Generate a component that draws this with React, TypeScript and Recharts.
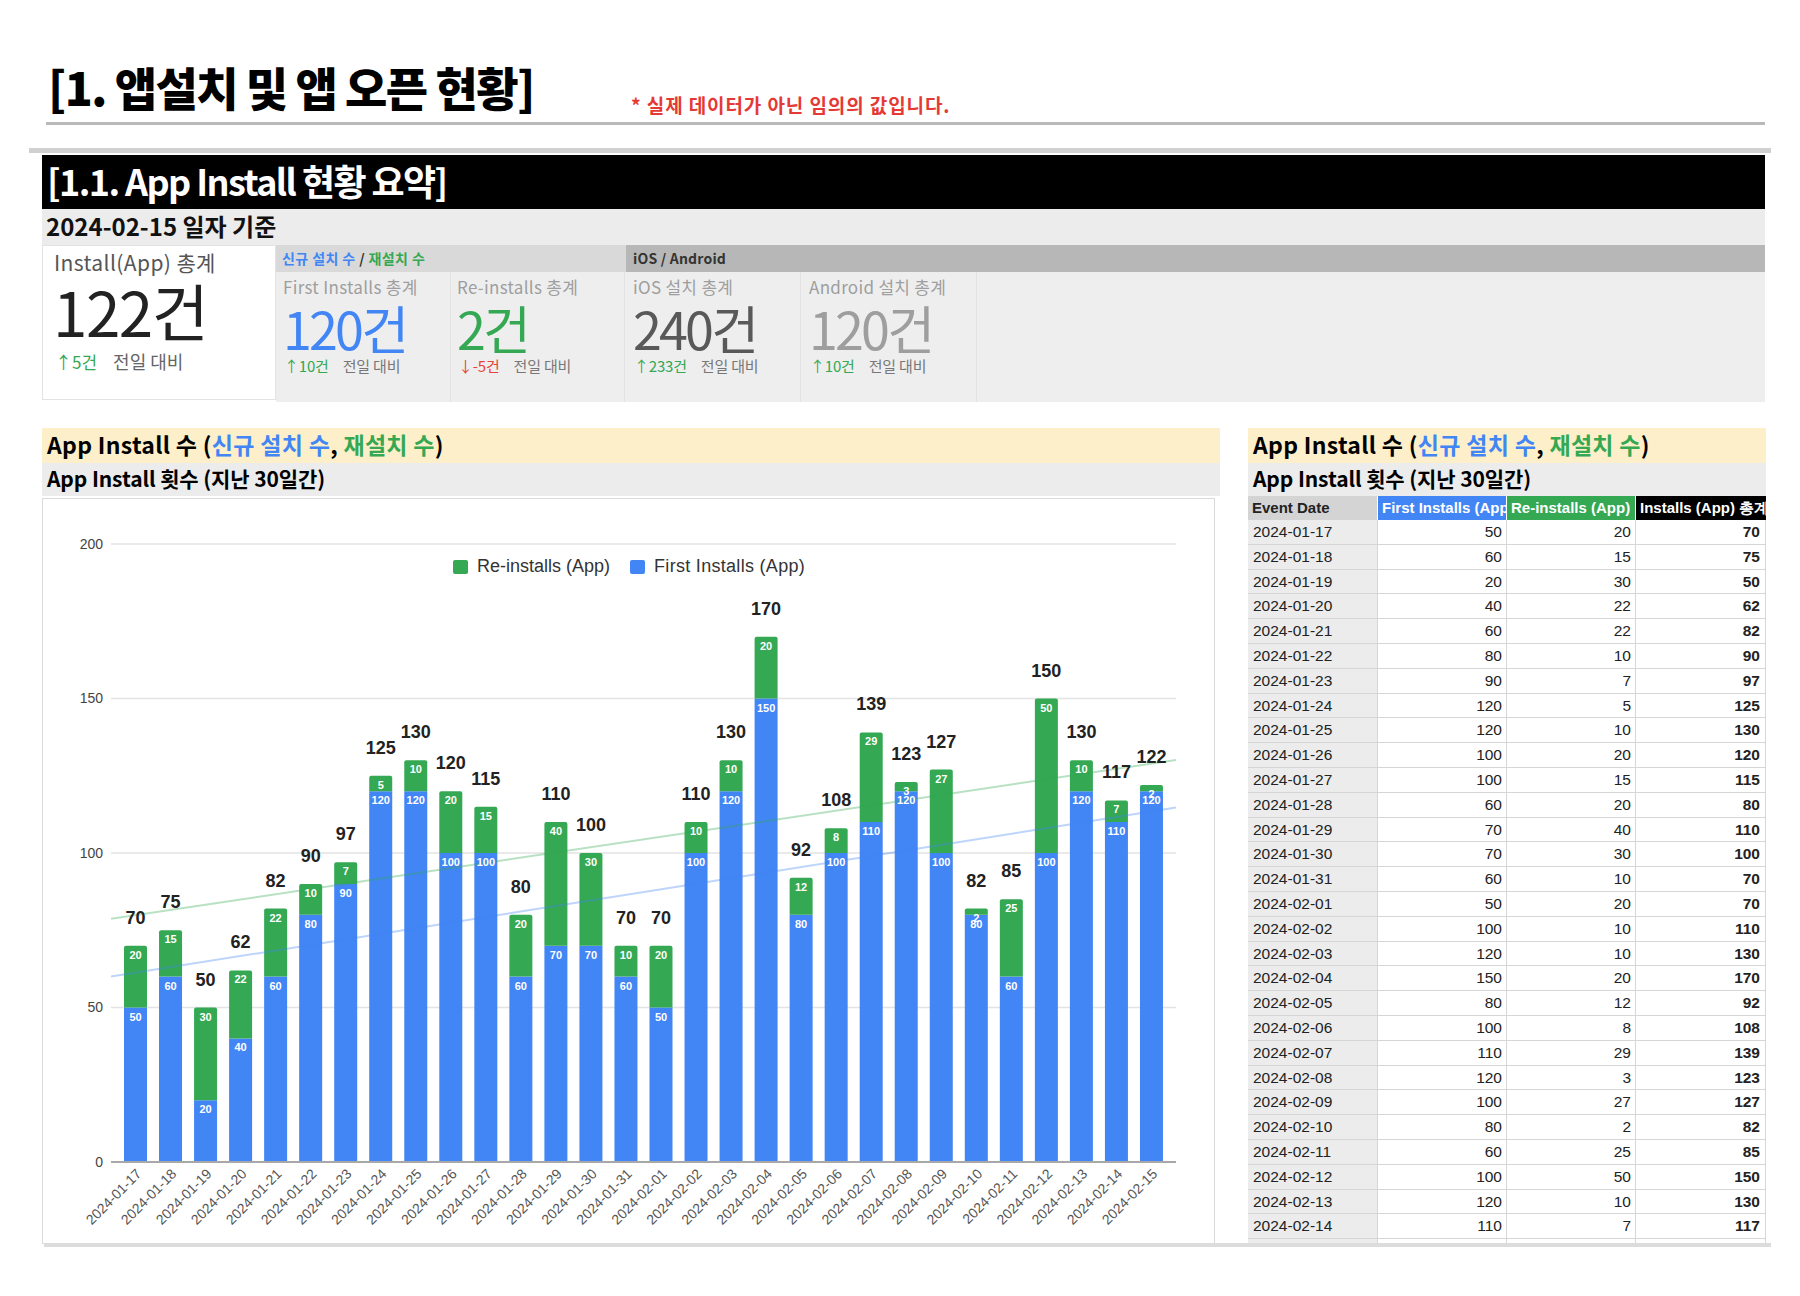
import React from "react";
import { ComposedChart, Bar, Line, XAxis, YAxis, CartesianGrid, LabelList } from "recharts";

const dates = [
  "2024-01-17", "2024-01-18", "2024-01-19", "2024-01-20", "2024-01-21", "2024-01-22",
  "2024-01-23", "2024-01-24", "2024-01-25", "2024-01-26", "2024-01-27", "2024-01-28",
  "2024-01-29", "2024-01-30", "2024-01-31", "2024-02-01", "2024-02-02", "2024-02-03",
  "2024-02-04", "2024-02-05", "2024-02-06", "2024-02-07", "2024-02-08", "2024-02-09",
  "2024-02-10", "2024-02-11", "2024-02-12", "2024-02-13", "2024-02-14", "2024-02-15",
];
const firstInstalls = [50, 60, 20, 40, 60, 80, 90, 120, 120, 100, 100, 60, 70, 70, 60, 50, 100, 120, 150, 80, 100, 110, 120, 100, 80, 60, 100, 120, 110, 120];
const reInstalls = [20, 15, 30, 22, 22, 10, 7, 5, 10, 20, 15, 20, 40, 30, 10, 20, 10, 10, 20, 12, 8, 29, 3, 27, 2, 25, 50, 10, 7, 2];
const totals = [70, 75, 50, 62, 82, 90, 97, 125, 130, 120, 115, 80, 110, 100, 70, 70, 110, 130, 170, 92, 108, 139, 123, 127, 82, 85, 150, 130, 117, 122];
const yTicks = [0, 50, 100, 150, 200];

// trend lines at the left and right edge of the plot
const trendX = [-0.7, 29.7];
const totalTrend = [78.7, 130.1];
const firstTrend = [60.0, 114.7];

const kpiTitles = ["First Installs 총계", "Re-installs 총계", "iOS 설치 총계", "Android 설치 총계"];
const kpiValues = [120, 2, 240, 120];
const kpiDeltas = [10, -5, 233, 10];
const kpiColors = ["#4285f4", "#34a853", "#595959", "#9e9e9e"];
const kpiLefts = [276, 450, 626, 802];

const BLUE = "#4285f4";
const GREEN = "#34a853";
const KR = '"Noto Sans CJK KR", "Noto Sans", sans-serif';
const AR = '"Liberation Sans", Arial, sans-serif';

const rows = dates.map((d, i) => ({ date: d, first: firstInstalls[i], re: reInstalls[i], total: totals[i] }));
const trendRows = trendX.map((t, i) => ({ t, total: totalTrend[i], first: firstTrend[i] }));

function Txt({ x, cy, size, color = "#000", bold = false, weight, ls = 0, fam = KR, children }: any) {
  const off = fam === KR ? 0.66 : 0.59;
  return (
    <div
      style={{
        position: "absolute", left: x, top: cy - size * off, fontSize: size, lineHeight: `${size * 1.2}px`,
        fontWeight: weight ?? (bold ? 700 : 400), color, letterSpacing: ls, fontFamily: fam, whiteSpace: "nowrap",
      }}
    >
      {children}
    </div>
  );
}

function Box({ x, y, w, h, bg, style }: any) {
  return <div style={{ position: "absolute", left: x, top: y, width: w, height: h, background: bg, boxSizing: "border-box", ...style }} />;
}

function pos(props: any) {
  const vb = props.viewBox ?? {};
  return {
    x: Number(props.x ?? vb.x),
    y: Number(props.y ?? vb.y),
    w: Number(props.width ?? vb.width),
  };
}

function SegLabel(props: any) {
  const { x, y, w } = pos(props);
  return (
    <text x={x + w / 2} y={y + 13} textAnchor="middle" fill="#fff" fontSize={11} fontWeight={700} fontFamily={AR}>
      {props.value}
    </text>
  );
}

function TotalLabel(props: any) {
  const { x, y, w } = pos(props);
  return (
    <text x={x + w / 2} y={y - 22} textAnchor="middle" fill="#222" fontSize={18} fontWeight={700} fontFamily={AR}>
      {props.value}
    </text>
  );
}

function DateTick({ x, y, payload }: any) {
  return (
    <g transform={`translate(${x + 4},${y + 2})`}>
      <text textAnchor="end" transform="rotate(-45)" dy={4} fontSize={14} fill="#555" fontFamily={AR}>
        {payload.value}
      </text>
    </g>
  );
}

function InstallChart() {
  return (
    <div style={{ position: "absolute", left: 42, top: 498, width: 1173, height: 746, border: "1px solid #dadada", boxSizing: "border-box", background: "#fff" }}>
      <ComposedChart width={1171} height={744} data={rows} margin={{ top: 45, right: 38, left: 0, bottom: 0 }}>
        <CartesianGrid vertical={false} stroke="#e3e3e3" strokeWidth={1.5} />
        <XAxis
          dataKey="date"
          interval={0}
          tickLine={false}
          axisLine={{ stroke: "#a8a8a8", strokeWidth: 2 }}
          height={81}
          padding={{ left: 7, right: 7 }}
          tick={<DateTick />}
        />
        <XAxis xAxisId="trend" type="number" dataKey="t" domain={[trendX[0], trendX[1]]} allowDataOverflow hide />
        <YAxis
          domain={[0, 200]}
          ticks={yTicks}
          width={68}
          axisLine={false}
          tickLine={false}
          tickMargin={2}
          tick={{ fontSize: 14, fill: "#444", fontFamily: AR }}
        />
        <Bar dataKey="first" stackId="a" fill={BLUE} barSize={23} isAnimationActive={false}>
          <LabelList dataKey="first" content={SegLabel} />
        </Bar>
        <Bar dataKey="re" stackId="a" fill={GREEN} barSize={23} radius={[2, 2, 0, 0]} isAnimationActive={false}>
          <LabelList dataKey="re" content={SegLabel} />
          <LabelList dataKey="total" content={TotalLabel} />
        </Bar>
        <Line xAxisId="trend" data={trendRows} dataKey="total" stroke={GREEN} strokeOpacity={0.35} strokeWidth={2} dot={false} activeDot={false} isAnimationActive={false} />
        <Line xAxisId="trend" data={trendRows} dataKey="first" stroke={BLUE} strokeOpacity={0.35} strokeWidth={2} dot={false} activeDot={false} isAnimationActive={false} />
      </ComposedChart>
      <div style={{ position: "absolute", left: 410, top: 57, display: "flex", alignItems: "center", fontFamily: AR, fontSize: 18, color: "#333" }}>
        <span style={{ width: 15, height: 14, background: GREEN, borderRadius: 2, marginRight: 9 }} />
        <span style={{ marginRight: 20 }}>Re-installs (App)</span>
        <span style={{ width: 15, height: 14, background: BLUE, borderRadius: 2, marginRight: 9 }} />
        <span style={{ letterSpacing: 0.3 }}>First Installs (App)</span>
      </div>
    </div>
  );
}

const colW = [130, 129, 129, 130];
const cellBorder = "1px solid #d6d6d6";

function InstallTable() {
  const headers = [
    { t: "Event Date", bg: "#d4d4d4", c: "#222" },
    { t: "First Installs (App)", bg: BLUE, c: "#fff" },
    { t: "Re-installs (App)", bg: GREEN, c: "#fff" },
    { t: "Installs (App) 총계", bg: "#000", c: "#fff" },
  ];
  return (
    <div style={{ position: "absolute", left: 1248, top: 496, width: 518, height: 747, overflow: "hidden", fontFamily: AR }}>
      <div style={{ display: "flex", height: 24 }}>
        {headers.map((h, i) => (
          <div
            key={h.t}
            style={{
              width: colW[i], background: h.bg, color: h.c, fontWeight: 700, fontSize: 15, lineHeight: "24px",
              paddingLeft: 4, boxSizing: "border-box", overflow: "hidden", whiteSpace: "nowrap",
              borderRight: i < 3 ? "1px solid #fff" : "none",
            }}
          >
            {h.t}
          </div>
        ))}
      </div>
      {rows.map((r) => (
        <div key={r.date} style={{ display: "flex", height: 24.8, boxSizing: "border-box", borderBottom: cellBorder, fontSize: 15.5, color: "#222" }}>
          <div style={{ width: colW[0], background: "#ececec", borderRight: cellBorder, paddingLeft: 5, boxSizing: "border-box", lineHeight: "24px" }}>{r.date}</div>
          <div style={{ width: colW[1], borderRight: cellBorder, paddingRight: 4, boxSizing: "border-box", textAlign: "right", lineHeight: "24px" }}>{r.first}</div>
          <div style={{ width: colW[2], borderRight: cellBorder, paddingRight: 4, boxSizing: "border-box", textAlign: "right", lineHeight: "24px" }}>{r.re}</div>
          <div style={{ width: colW[3], borderRight: cellBorder, paddingRight: 5, boxSizing: "border-box", textAlign: "right", lineHeight: "24px", fontWeight: 700 }}>{r.total}</div>
        </div>
      ))}
    </div>
  );
}

function SectionHeader({ x, w }: { x: number; w: number }) {
  return (
    <>
      <Box x={x} y={428} w={w} h={35} bg="#fcefc9" />
      <Txt x={x + 5} cy={446} size={23} bold ls={0.3}>
        App Install 수 (<span style={{ color: BLUE }}>신규 설치 수</span>, <span style={{ color: GREEN }}>재설치 수</span>)
      </Txt>
      <Box x={x} y={463} w={w} h={33} bg="#ececec" />
      <Txt x={x + 5} cy={480} size={21} bold ls={-0.1}>
        App Install 횟수 (지난 30일간)
      </Txt>
    </>
  );
}

export default function App() {
  return (
    <div style={{ position: "absolute", left: 0, top: 0, width: 1800, height: 1296, background: "#fff", overflow: "hidden", fontFamily: KR }}>
      <Txt x={48} cy={89} size={46} weight={900} ls={-1.6}>[1. 앱설치 및 앱 오픈 현황]</Txt>
      <Txt x={631} cy={107} size={19} bold ls={0.9} color="#e53935">* 실제 데이터가 아닌 임의의 값입니다.</Txt>
      <Box x={46} y={122} w={1719} h={3} bg="#b9b9b9" />
      <Box x={29} y={148} w={1742} h={5} bg="#d0d0d0" />

      <Box x={42} y={155} w={1723} h={54} bg="#000" />
      <Txt x={47} cy={183} size={36} bold ls={-1.6} color="#fff">[1.1. App Install 현황 요약]</Txt>

      <Box x={42} y={209} w={1723} h={36} bg="#ececec" />
      <Txt x={46} cy={228} size={24} bold color="#111">2024-02-15 일자 기준</Txt>

      <Box x={42} y={245} w={234} h={155} bg="#fff" style={{ border: "1px solid #e3e3e3" }} />
      <Txt x={54} cy={264} size={21} color="#555" ls={0.4}>Install(App) 총계</Txt>
      <Txt x={53} cy={314} size={62} color="#222" ls={-1.5}>{totals[totals.length - 1]}건</Txt>
      <Txt x={55} cy={362} size={17} color={GREEN}>
        ↑5건<span style={{ color: "#666", marginLeft: 16, fontSize: 18 }}>전일 대비</span>
      </Txt>

      <Box x={276} y={245} w={350} h={27} bg="#d9d9d9" />
      <Txt x={282} cy={259} size={14} bold ls={0.4}>
        <span style={{ color: BLUE }}>신규 설치 수</span>
        <span style={{ color: "#333" }}> / </span>
        <span style={{ color: GREEN }}>재설치 수</span>
      </Txt>
      <Box x={626} y={245} w={1139} h={27} bg="#b7b7b7" />
      <Txt x={633} cy={259} size={14} bold color="#333" ls={0.2}>iOS / Android</Txt>

      <Box x={276} y={272} w={1489} h={130} bg="#eeeeee" />
      {kpiLefts.map((l, i) => (
        <React.Fragment key={kpiTitles[i]}>
          <Box x={l + 174} y={272} w={1} h={130} bg="#e2e2e2" />
          <Txt x={l + 7} cy={288} size={17} color="#9e9e9e" ls={0.3}>{kpiTitles[i]}</Txt>
          <Txt x={l + 7} cy={331} size={52} color={kpiColors[i]} ls={-2.8}>{kpiValues[i]}건</Txt>
          <Txt x={l + 8} cy={367} size={15} color={kpiDeltas[i] < 0 ? "#ea4335" : GREEN} ls={-0.2}>
            {kpiDeltas[i] < 0 ? "↓" : "↑"}{kpiDeltas[i]}건
            <span style={{ color: "#777", marginLeft: 14 }}>전일 대비</span>
          </Txt>
        </React.Fragment>
      ))}

      <SectionHeader x={42} w={1178} />
      <SectionHeader x={1248} w={518} />

      <InstallChart />
      <InstallTable />

      <Box x={44} y={1243} w={1727} h={4} bg="#dcdcdc" />
    </div>
  );
}
